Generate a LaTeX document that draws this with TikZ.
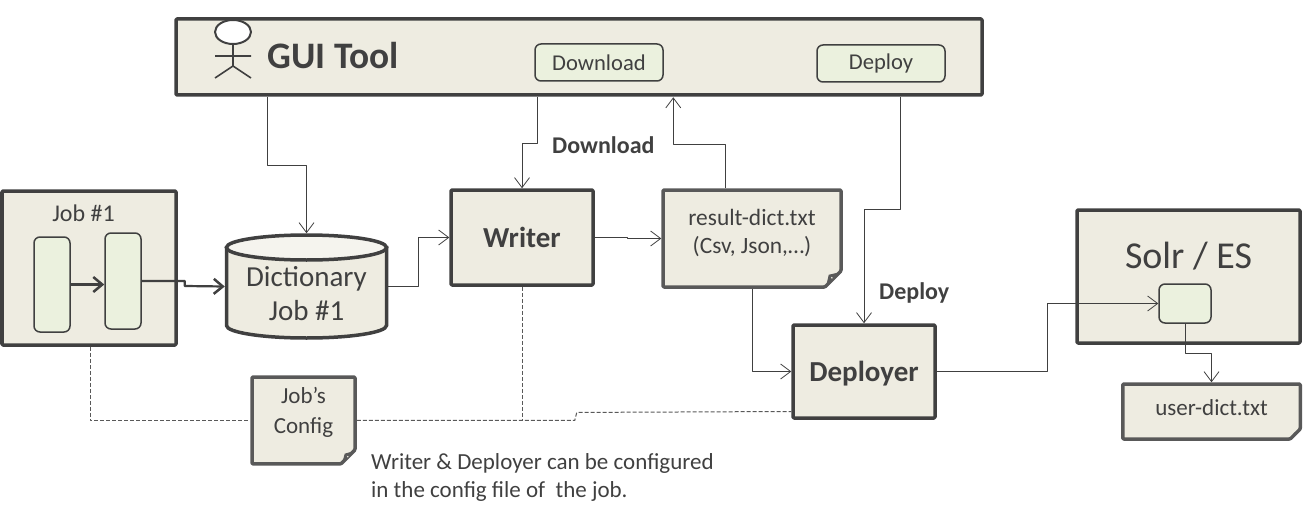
\documentclass[tikz,border=0pt]{standalone}
\usepackage{fontspec}
\setmainfont{Carlito}
\usepackage{xcolor}
\usetikzlibrary{arrows.meta,positioning,calc,shapes.geometric,shapes.misc,backgrounds}
\definecolor{ink}{HTML}{404040}
\definecolor{notegray}{HTML}{595959}
\definecolor{tan}{HTML}{EEECE1}
\definecolor{softtan}{HTML}{F5F4EE}
\definecolor{softgreen}{HTML}{EBF1DE}
\newcommand{\foldmark}[2]{%
  \coordinate (fold) at (#1.east|-#1.south);
  \fill[notegray] ($(fold)+(-#2-1,-1)$) -- ($(fold)+(-#2+2,-#2+2)$) -- ($(fold)+(-1,-#2-1)$) -- cycle;
  \ifnum#2>10
    \fill[tan] ($(fold)+(-#2+4,-#2+4)$) -- ($(fold)+(-#2+6,-#2+5)$) -- ($(fold)+(-#2+5,-#2+6)$) -- cycle;
  \fi
}
\tikzset{
    every picture/.style={line join=round},
    thickbox/.style={draw=ink,fill=tan,line width=3.5pt,rounded corners=1pt,text=ink,
      align=center},
    procbox/.style={thickbox,minimum width=142pt,minimum height=95pt,
      font=\fontsize{29}{34}\selectfont\bfseries},
    innerbox/.style={draw=ink,fill=softgreen,line width=1.5pt,rounded corners=6pt,
      text=ink,align=center,font=\fontsize{22.6}{27}\selectfont},
    docnote/.style={draw=notegray,fill=tan,line width=3.5pt,rounded corners=1pt,text=ink,
      align=center,chamfered rectangle,chamfered rectangle corners=south east,
      chamfered rectangle xsep=#1/2,chamfered rectangle ysep=#1/2},
    docnote/.default=16pt,
    dbend/.style={draw=ink,line width=3.5pt},
    flowarrow/.style={-{Straight Barb[length=10pt,width=15pt,line width=0.8pt]},draw=ink,
      line width=0.9pt},
    heavyarrow/.style={-{Straight Barb[length=9pt,width=15pt,line width=2.5pt]},draw=ink,
      line width=2.2pt},
    configlink/.style={draw=notegray,line width=1pt,dash pattern=on 4pt off 2pt},
    steplabel/.style={text=ink,inner sep=0pt,font=\fontsize{24}{28}\selectfont\bfseries}
}
\begin{document}
\begin{tikzpicture}[x=1pt,y=-1pt]
  \useasboundingbox (0,0) rectangle (1303,516);
  % top bar
  \node[thickbox,minimum width=806pt,minimum height=76pt] (gui) at (579,57) {};
  \node[draw=ink,fill=white,ellipse,line width=2pt,minimum width=36pt,minimum height=24pt,
    inner sep=0pt,outer sep=0pt] (head) at ($(gui.west)+(58.75,-25)$) {};
  \draw[ink,line width=1.6pt] (head.south) -- ++(0,22) -- ++(-18,12)
    ++(18,-12) -- ++(18,12) ++(-36,-22) -- ++(36,0);
  \node[anchor=west,inner sep=0pt,text=ink,font=\fontsize{37.4}{44}\selectfont\bfseries]
    (guititle) at ($(gui.west)+(93,-1)$) {GUI Tool};
  \node[innerbox,minimum width=128pt,minimum height=37pt] (downloadbtn)
    at ($(gui.center)+(20,5.5)$) {Download};
  \node[innerbox,minimum width=128pt,minimum height=37pt,right=152.5pt of downloadbtn,
    yshift=-1pt] (deploybtn) {Deploy};
  % job and the chain below the bar
  \node[thickbox,minimum width=174pt,minimum height=154pt] (job) at (89,268) {};
  \node[text=ink,font=\fontsize{24}{28}\selectfont,inner sep=0pt] (jobtitle)
    at ($(job.north)+(-5.5,24)$) {Job \#1};
  \node[innerbox,minimum width=36pt,minimum height=95pt] (stepa) at ($(job)+(-37,16.5)$) {};
  \node[innerbox,minimum width=36pt,minimum height=96pt,right=33.5pt of stepa,
    yshift=3.5pt] (stepb) {};
  \node[minimum width=163.5pt,minimum height=106.5pt,inner sep=0pt,outer sep=0pt,text=ink,
    align=center,text height=69pt,font=\fontsize{29}{34}\selectfont,
    right=47pt of job,yshift=-18.5pt] (dict) {Dictionary\\Job \#1};
  \begin{scope}[on background layer]
    \coordinate (dicttop) at ($(dict.north)+(0,14.25)$);
    \coordinate (dictbase) at ($(dict.south)+(0,-14.25)$);
    \draw[dbend,fill=tan] ($(dicttop)+(-80,0)$) -- ($(dictbase)+(-80,0)$)
      arc[start angle=180,end angle=360,x radius=80pt,y radius=12.5pt]
      -- ($(dicttop)+(80,0)$) -- cycle;
    \draw[dbend,fill=softtan] (dicttop) ellipse [x radius=80pt,y radius=12.5pt];
  \end{scope}
  \node[procbox,right=61pt of dict,yshift=49pt] (writer) {Writer};
  \node[docnote,minimum width=178pt,minimum height=97pt,right=66.5pt of writer,yshift=-1pt,
    font=\fontsize{23.4}{28}\selectfont,text depth=14pt] (result)
    {result-dict.txt\\(Csv, Json,…)};
  \node[procbox,minimum height=93pt,below=34.5pt of result,xshift=112pt,text depth=0pt]
    (deployer) {Deployer};
  \node[thickbox,minimum width=223pt,minimum height=133pt,right=138.5pt of deployer,
    yshift=95pt,font=\fontsize{38}{44}\selectfont,text depth=43pt] (solr) {Solr / ES};
  \node[innerbox,minimum width=52pt,minimum height=39pt] (core) at ($(solr)+(-3.5,27)$) {};
  \node[docnote=10pt,minimum width=177.5pt,minimum height=55pt,below=37.5pt of solr,xshift=23pt,
    font=\fontsize{23}{28}\selectfont,text depth=7pt] (userdict) {user-dict.txt};
  \node[docnote=14pt,minimum width=103pt,minimum height=85pt,below=35.5pt of dict,xshift=-3pt,
    font=\fontsize{23}{30}\selectfont,text depth=20pt] (config) {Job’s\\Config};
  \foldmark{result}{16}
  \foldmark{userdict}{10}
  \foldmark{config}{14}
  % connectors
  \draw[flowarrow] ($(gui.south west)+(93,0)$) -- ++(0,69) -| (dict.north);
  \draw[flowarrow] ($(gui.south west)+(363,0)$) -- ++(0,47) -| (writer.north);
  \draw[flowarrow] ($(result.north west)+(64,0)$) -- ++(0,-44) -- ++(-52,0) -- ++(0,-47);
  \draw[flowarrow] ($(gui.south west)+(726,0)$) -- ++(0,113) -| (deployer.north);
  \draw[flowarrow] (dict.east) -- ++(30,0) |- (writer.west);
  \draw[flowarrow] (writer.east) -- ++(33,0) -- ++(0,1) -- (result.west);
  \draw[flowarrow] (result.south) |- (deployer.west);
  \draw[flowarrow] (deployer.east) -- ++(111,0) |- (core.west);
  \draw[flowarrow] (core.south) -- ++(0,30) -| (userdict.north);
  \draw[heavyarrow] (stepa.east) -- (stepb.west|-stepa.east);
  \draw[heavyarrow] (stepb.east) -- ++(43,0) -- ++(0,5) -- (dict.west);
  % dashed links to the job's config
  \draw[configlink] (job.south) ++(1,0) |- (config.west);
  \draw[configlink] (config.east) -- ++(218,0) -- ++(2,-8) -- ($(deployer.west)+(0,40)$);
  \draw[configlink] (writer.south) -- ++(0,132.5);
  % free labels
  \node[steplabel,anchor=west] (downloadlabel) at (552,145.5) {Download};
  \node[steplabel,anchor=west] (deploylabel) at (879,292.5) {Deploy};
  \node[text=ink,anchor=north west,align=left,inner sep=0pt,
    font=\fontsize{23}{28}\selectfont] (confignote) at (371,453)
    {Writer \& Deployer can be configured\\in the config file of\ \ the job.};
\end{tikzpicture}
\end{document}
